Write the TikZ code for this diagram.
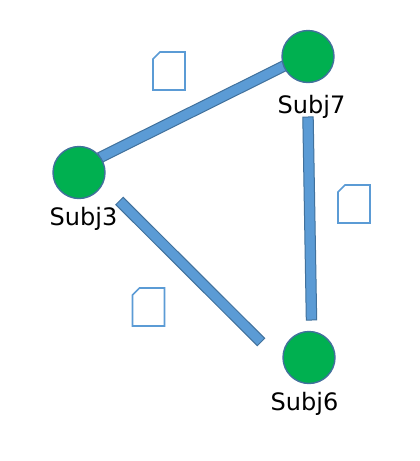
\documentclass[tikz,border=0pt]{standalone}
\usepackage{fontspec}
\setmainfont{DejaVu Sans}
\usetikzlibrary{calc}
\definecolor{barfill}{HTML}{5B9BD5}
\definecolor{barline}{HTML}{41719C}
\definecolor{nodegreen}{HTML}{00B050}
\tikzset{
  subj/.style={circle,draw=barline,line width=1.4pt,fill=nodegreen,minimum size=52pt,inner sep=0pt},
  subjlabel/.style={font=\fontsize{24}{28}\selectfont,inner sep=0pt,text=black},
  doc/.style={draw=barfill,line width=1.6pt,fill=white,line join=miter},
  barshape/.style={draw=barline,line width=1pt,fill=barfill}
}
\newcommand{\connbar}[2]{%
  \path[barshape] ($(#1)!5.2pt!90:(#2)$) -- ($(#2)!5.2pt!-90:(#1)$) -- ($(#2)!5.2pt!90:(#1)$) -- ($(#1)!5.2pt!-90:(#2)$) -- cycle;}
\newcommand{\docshape}[2]{%
  \path[doc] (#1+7,#2) -- (#1+32,#2) -- (#1+32,#2+38) -- (#1,#2+38) -- (#1,#2+7) -- cycle;}
\begin{document}
\begin{tikzpicture}[x=1pt,y=-1pt]
\useasboundingbox (0,0) rectangle (420,461);
\fill[white] (0,0) rectangle (420,461);
\coordinate (a1) at (100,157.5);
\coordinate (a2) at (286,65);
\coordinate (b1) at (308,117);
\coordinate (b2) at (311.5,320);
\coordinate (c1) at (119.5,201);
\coordinate (c2) at (261,342);
\connbar{a1}{a2}
\connbar{b1}{b2}
\connbar{c1}{c2}
\node[subj] (s7) at (308,56.5) {};
\node[subj] (s3) at (79,172.5) {};
\node[subj] (s6) at (309,357.5) {};
\node[subjlabel] (l7) at (311.5,106.5) {Subj7};
\node[subjlabel] (l3) at (83.5,218.5) {Subj3};
\node[subjlabel] (l6) at (304.5,403.5) {Subj6};
\docshape{153}{52}
\docshape{338}{185}
\docshape{132.5}{288}
\end{tikzpicture}
\end{document}
